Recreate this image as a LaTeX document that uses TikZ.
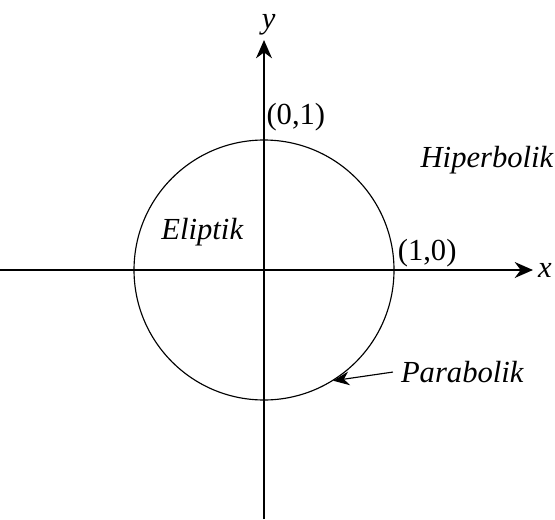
\documentclass[tikz,border=0pt]{standalone}
\usepackage{fontspec}
\setmainfont{Liberation Serif}
\usetikzlibrary{arrows.meta}

\begin{document}
\begin{tikzpicture}[
    axis/.style={line width=0.6pt, -{Stealth[length=8pt, width=7pt]}},
    lbl/.style={font=\fontsize{13.4}{16}\selectfont},
    reg/.style={font=\fontsize{13.4}{16}\selectfont\itshape},
    arr/.style={line width=0.5pt, -{Stealth[length=7pt, width=6pt]}}
]
    \useasboundingbox (-4.062,-3.831) rectangle (4.477,4.154);

    \coordinate (xl) at (-4.062,0);
    \coordinate (xr) at (4.138,0);
    \coordinate (yb) at (0,-3.831);
    \coordinate (yt) at (0,3.538);

    \draw[axis] (xl) -- (xr) node[right, reg, inner sep=2pt] {x};
    \draw[axis] (yb) -- (yt) node[above, reg, inner sep=2pt, xshift=2pt] {y};

    \node[circle, draw, line width=0.5pt, minimum size=4cm, inner sep=0pt] (unit) at (0,0) {};

    \node[lbl] (p01)   at (0.49,2.35)  {(0,1)};
    \node[lbl] (p10)   at (2.51,0.26)  {(1,0)};
    \node[reg] (elip)  at (-0.95,0.58) {Eliptik};
    \node[reg] (hiper) at (3.43,1.69)  {Hiperbolik};
    \node[reg] (parab) at (3.05,-1.57) {Parabolik};

    \draw[arr] (parab.west) -- (unit.-58);
\end{tikzpicture}
\end{document}
